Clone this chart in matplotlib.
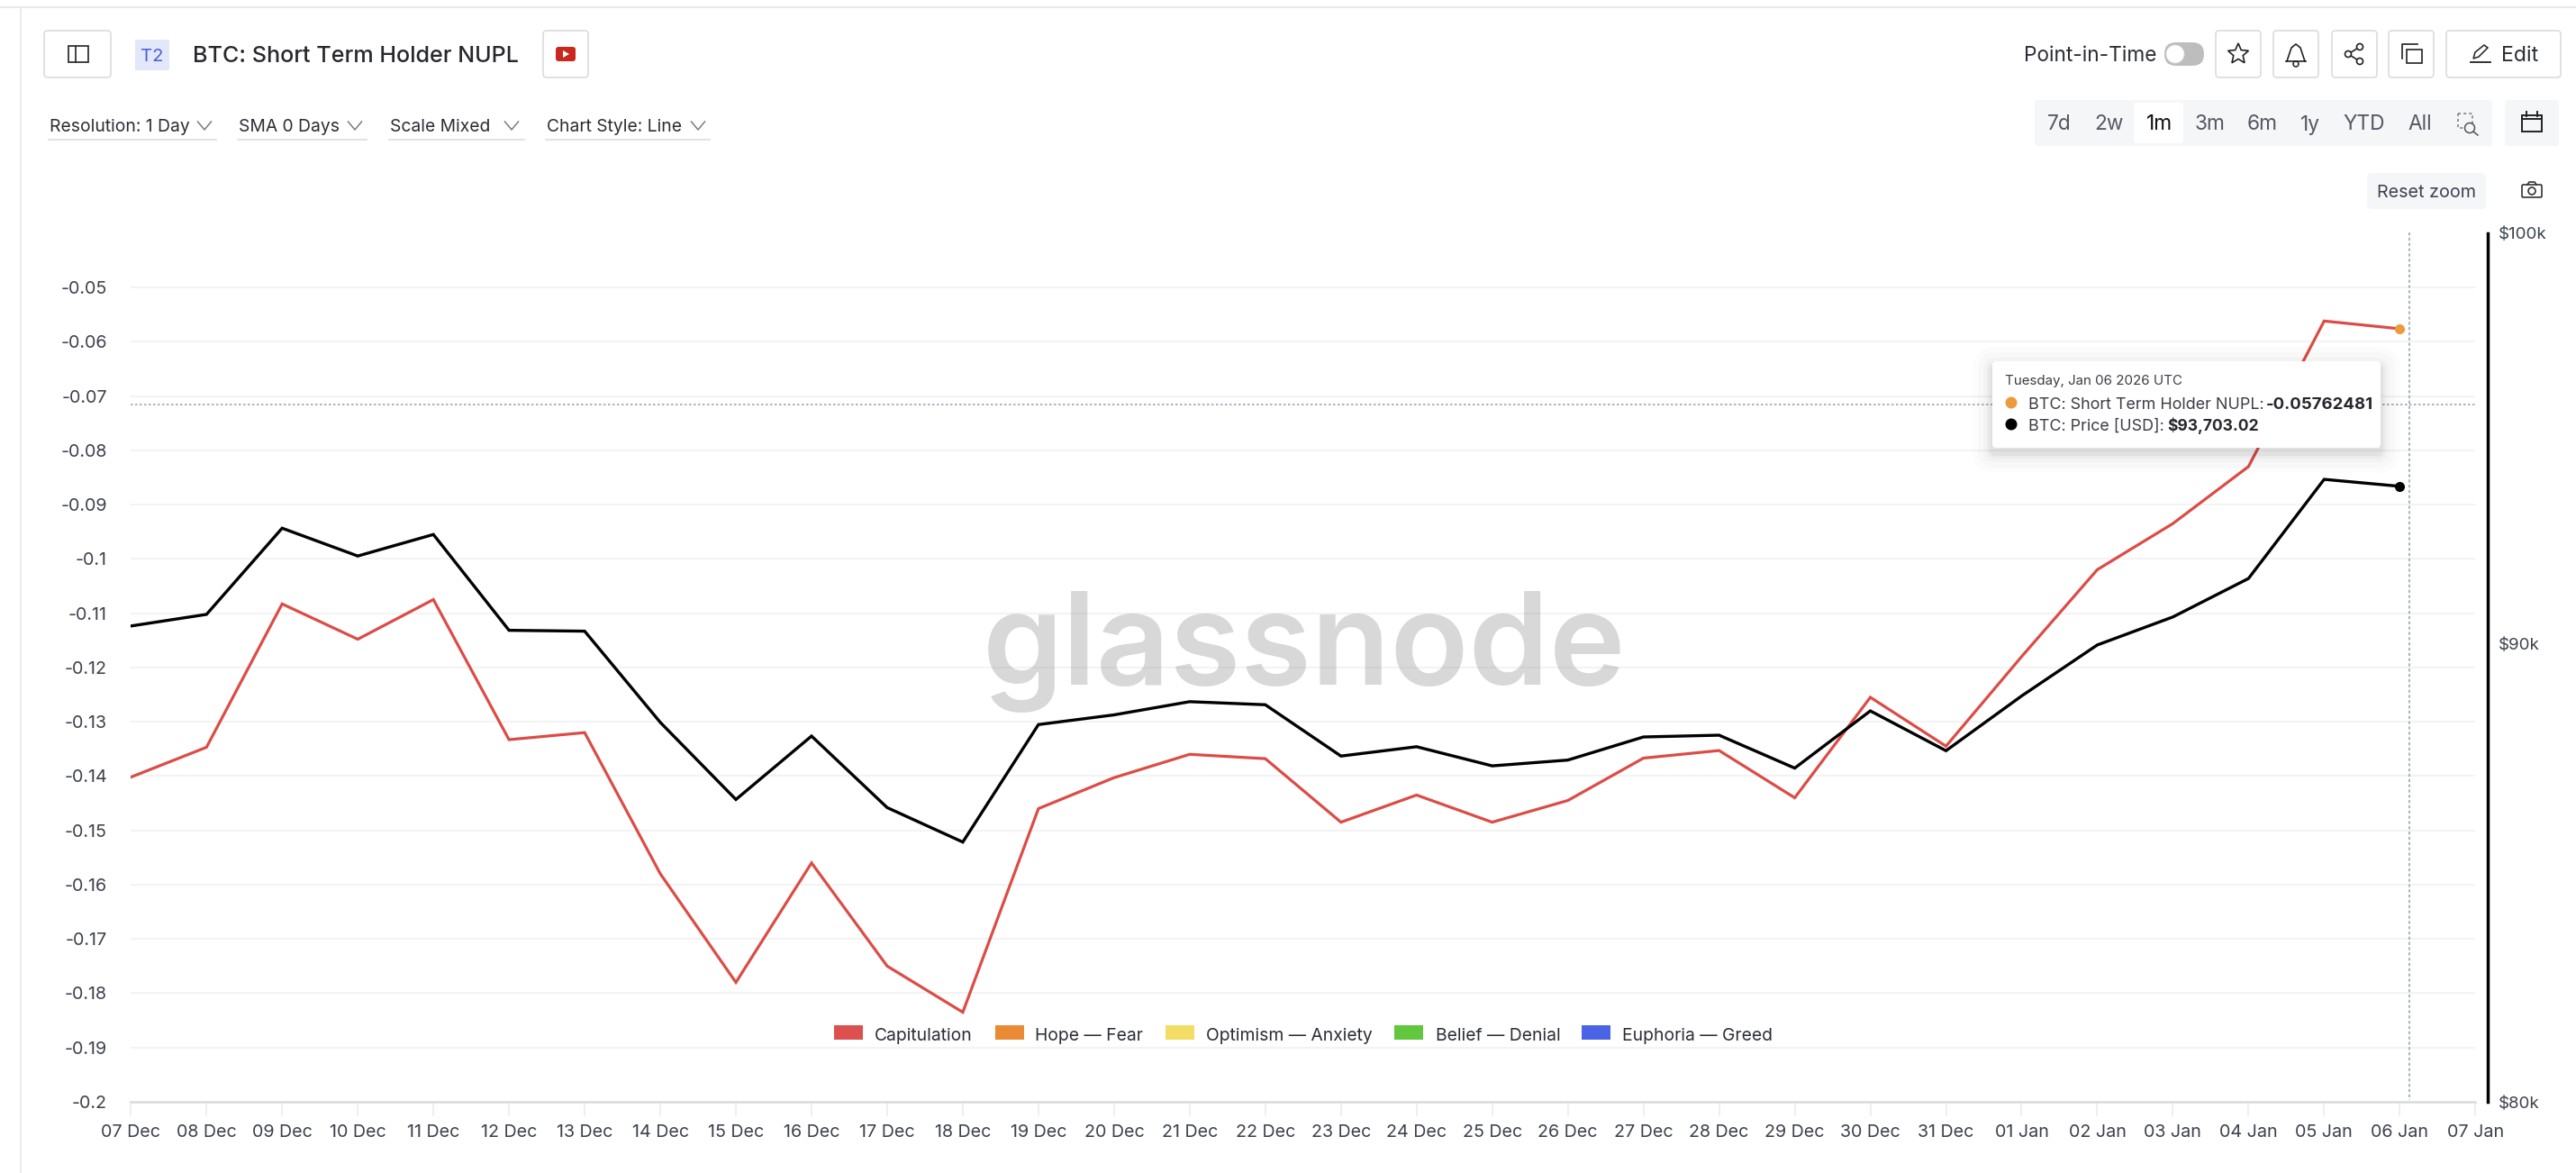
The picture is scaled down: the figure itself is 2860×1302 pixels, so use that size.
import numpy as np
import pandas as pd
import matplotlib
matplotlib.use("Agg")
import matplotlib.pyplot as plt
from matplotlib.patches import FancyBboxPatch, Rectangle, Circle, Polygon
from matplotlib.ticker import FixedLocator, FixedFormatter, NullLocator
import matplotlib.dates as mdates

plt.rcParams['font.family'] = ['Inter', 'DejaVu Sans']

dates = pd.date_range('2025-12-07', '2026-01-06', freq='D')
nupl = [-0.1402, -0.1347, -0.1083, -0.1148, -0.1075, -0.1333, -0.1320, -0.1580,
        -0.1780, -0.1560, -0.1750, -0.1835, -0.1460, -0.1403, -0.1360, -0.1368,
        -0.1485, -0.1435, -0.1485, -0.1445, -0.1367, -0.1353, -0.1440, -0.1255,
        -0.1345, -0.1180, -0.1020, -0.0935, -0.0830, -0.0562, -0.05762481]
price = [90400, 90670, 92700, 92040, 92550, 90300, 90280, 88190, 86460, 87880,
         86280, 85520, 88140, 88360, 88660, 88590, 87430, 87640, 87210, 87340,
         87860, 87900, 87160, 88450, 87550, 88790, 89960, 90610, 91510, 93870,
         93703.02]
x_tick_dates = pd.date_range('2025-12-07', '2026-01-07', freq='D')
x_tick_labels = [d.strftime('%d %b') for d in x_tick_dates]
y_ticks = [-0.05, -0.06, -0.07, -0.08, -0.09, -0.10, -0.11, -0.12, -0.13, -0.14,
           -0.15, -0.16, -0.17, -0.18, -0.19, -0.20]
y_tick_labels = ['-0.05', '-0.06', '-0.07', '-0.08', '-0.09', '-0.1', '-0.11', '-0.12',
                 '-0.13', '-0.14', '-0.15', '-0.16', '-0.17', '-0.18', '-0.19', '-0.2']
price_ticks = [80000, 90000, 100000]
price_labels = ['$80k', '$90k', '$100k']
legend_names = ['Capitulation', 'Hope — Fear', 'Optimism — Anxiety', 'Belief — Denial', 'Euphoria — Greed']
legend_colors = ['#dc5050', '#e98a35', '#f3dd64', '#62c63f', '#4b64e6']
range_names = ['7d', '2w', '1m', '3m', '6m', '1y', 'YTD', 'All']

W, H = 2860, 1302
L, R, T, B = 145.3, 2748.3, 258.7, 1223.0
TICK = '#3d414e'
fig = plt.figure(figsize=(W / 100, H / 100), dpi=100, facecolor='white')

ui = fig.add_axes([0, 0, 1, 1], zorder=5)
ui.set_xlim(0, W); ui.set_ylim(H, 0); ui.axis('off'); ui.patch.set_alpha(0)

ax = fig.add_axes([L / W, 1 - B / H, (R - L) / W, (B - T) / H], zorder=1)
x = mdates.date2num(dates)
ax.set_xlim(mdates.date2num(x_tick_dates[0]), mdates.date2num(x_tick_dates[-1]))
ax.set_ylim(-0.20, -0.04)
ax.patch.set_alpha(0)
ax.yaxis.set_major_locator(FixedLocator(y_ticks))
ax.yaxis.set_major_formatter(FixedFormatter(y_tick_labels))
ax.xaxis.set_major_locator(FixedLocator(mdates.date2num(x_tick_dates)))
ax.xaxis.set_major_formatter(FixedFormatter(x_tick_labels))
ax.yaxis.grid(True, color='#f3f3f3', lw=1.5, zorder=0)
ax.set_axisbelow(True)
ax.tick_params(axis='y', length=0, pad=19, labelsize=14.2, labelcolor=TICK)
ax.tick_params(axis='x', length=11.5, width=1.2, color='#ececec', pad=6.5, labelsize=14.2, labelcolor=TICK)
for s in ['top', 'left', 'right']:
    ax.spines[s].set_visible(False)
ax.spines['bottom'].set_color('#dcdcdc')
ax.spines['bottom'].set_linewidth(1.8)
ax.text(1448, 760, 'glassnode', transform=ui.transData, ha='center', va='baseline',
        fontsize=103, color='#8a8a8a', alpha=0.33, zorder=2, fontweight='semibold')
ax.plot(x, nupl, color='#dc4c46', lw=2.3, zorder=3, solid_joinstyle='miter')
ax.plot(x[-1], nupl[-1], 'o', color='#ec9a3c', ms=8, mew=0, zorder=4)

ax2 = ax.twinx()
ax2.set_zorder(2)
ax2.patch.set_alpha(0)
ax2.set_yscale('log')
ax2.set_ylim(80000, 100000)
ax2.yaxis.set_major_locator(FixedLocator(price_ticks))
ax2.yaxis.set_major_formatter(FixedFormatter(price_labels))
ax2.yaxis.set_minor_locator(NullLocator())
ax2.tick_params(axis='y', length=0, pad=8.5, labelsize=13.5, labelcolor=TICK)
for s in ['top', 'left', 'bottom']:
    ax2.spines[s].set_visible(False)
ax2.spines['right'].set_position(('outward', 9.9))
ax2.spines['right'].set_linewidth(2.5)
ax2.spines['right'].set_color('black')
ax2.plot(x, price, color='black', lw=2.4, zorder=3, solid_joinstyle='miter')
ax2.plot(x[-1], price[-1], 'o', color='black', ms=8, mew=0, zorder=4)


def box(x0, y0, x1, y1, fc='white', ec='none', lw=1.2, r=4, z=2, alpha=None):
    p = FancyBboxPatch((x0, y0), x1 - x0, y1 - y0, boxstyle=f'round,pad=0,rounding_size={r}',
                       fc=fc, ec=ec, lw=lw, zorder=z, alpha=alpha)
    ui.add_patch(p)
    return p


def label(px, py, s, size=15, color='#2b2e36', ha='left', weight='normal', z=6):
    return ui.text(px, py, s, fontsize=size, color=color, ha=ha, va='center_baseline', fontweight=weight, zorder=z)


def chevron(cx, cy, w=15):
    ui.plot([cx - w / 2, cx, cx + w / 2], [cy - 4, cy + 5, cy - 4], color='#777b85', lw=1.1, zorder=6)


# page frame
ui.plot([0, W], [8, 8], color='#e8e8e8', lw=1.5)
ui.plot([23, 23], [8, H], color='#e8e8e8', lw=1.2)

# header buttons
BTN = '#dcdcdc'
for x0, x1 in [(49, 123), (603, 653), (2460, 2510), (2524, 2574), (2589, 2639), (2652, 2702), (2716, 2843)]:
    box(x0, 34, x1, 86, ec=BTN)
ui.add_patch(Rectangle((76, 51), 22, 18, fc='none', ec='#333333', lw=1.3, zorder=6))
ui.plot([84, 84], [51, 69], color='#333333', lw=1.3, zorder=6)
box(150, 44, 188, 78, fc='#e3e7fa', r=1)
label(169, 61, 'T2', size=14.5, color='#4a60d8', ha='center')
label(214, 60, 'BTC: Short Term Holder NUPL', size=18.1, color='#26282e', weight='medium')
box(617, 52, 639, 68, fc='#c9281e', r=3)
ui.add_patch(Polygon([[625, 56], [625, 64], [632, 60]], fc='white', ec='none', zorder=6))

# dropdowns
for txt, tx, ux, cx in [('Resolution: 1 Day', 55, 240, 227), ('SMA 0 Days', 265, 407, 394),
                        ('Scale Mixed', 433, 582, 568), ('Chart Style: Line', 607, 788, 775)]:
    label(tx, 139, txt, size=13.9)
    ui.plot([tx - 1, ux], [155, 155], color='#dddddd', lw=1.2, zorder=3)
    chevron(cx, 139)

# top right
label(2247, 60, 'Point-in-Time', size=16.3)
box(2403, 47, 2447, 73, fc='#bdbdbd', r=13)
ui.add_patch(Circle((2415, 60), 10, fc='white', ec='#e0e0e0', lw=0.6, zorder=6))
# star
ang = np.deg2rad(np.arange(-90, 270, 36))
rad = np.where(np.arange(10) % 2 == 0, 12, 5.5)
ui.add_patch(Polygon(np.c_[2485 + rad * np.cos(ang), 60 + rad * np.sin(ang)], fc='none', ec='#222222', lw=1.2, zorder=6))
# bell
ui.plot([2539, 2541, 2544, 2549, 2554, 2557, 2559], [68, 62, 53, 49, 53, 62, 68], color='#222222', lw=1.2, zorder=6)
ui.plot([2538, 2560], [68, 68], color='#222222', lw=1.2, zorder=6)
ui.add_patch(Circle((2549, 71), 3, fc='none', ec='#222222', lw=1.1, zorder=6))
# share
ui.plot([2620, 2607, 2620], [52, 60, 68], color='#222222', lw=1.2, zorder=6)
for c in [(2620, 52), (2607, 60), (2620, 68)]:
    ui.add_patch(Circle(c, 3.5, fc='white', ec='#222222', lw=1.2, zorder=7))
# copy
ui.add_patch(Rectangle((2672, 55), 17, 15, fc='none', ec='#222222', lw=1.2, zorder=6))
ui.plot([2667, 2667, 2684], [65, 49, 49], color='#222222', lw=1.2, zorder=6)
# edit
ui.plot([2743, 2765], [69, 69], color='#222222', lw=1.3, zorder=6)
ui.add_patch(Polygon([[2746, 65], [2748, 58], [2758, 50], [2762, 53], [2752, 63]], fc='none', ec='#222222', lw=1.1, zorder=6))
label(2777, 60, 'Edit', size=16.6)

# range selector
box(2259, 111, 2767, 162, fc='#f5f6f8', r=4)
box(2369, 114, 2424, 159, fc='white', r=3, z=3)
for name, cx in zip(range_names, [2286, 2341, 2397, 2453, 2512, 2565, 2625, 2687]):
    label(cx, 136, name, size=16.3, ha='center', color='#111111' if name == '1m' else '#555862')
ui.add_patch(Rectangle((2729, 126), 16, 16, fc='none', ec='#777777', lw=1.1, ls=(0, (2, 2)), zorder=6))
ui.add_patch(Circle((2742, 142), 5.5, fc='#f5f6f8', ec='#555555', lw=1.1, zorder=7))
ui.plot([2746, 2751], [146, 150], color='#555555', lw=1.1, zorder=7)
box(2781, 111, 2841, 162, fc='#f5f6f8', r=4)
ui.add_patch(Rectangle((2800, 128), 22, 18, fc='none', ec='#222222', lw=1.4, zorder=6))
ui.plot([2800, 2822], [132, 132], color='#222222', lw=1.4, zorder=6)
ui.plot([2805, 2805], [124, 129], color='#222222', lw=1.4, zorder=6)
ui.plot([2817, 2817], [124, 129], color='#222222', lw=1.4, zorder=6)

# reset zoom
box(2628, 192, 2760, 232, fc='#f5f6f8', r=5)
label(2694, 212, 'Reset zoom', size=14.2, ha='center', color='#3d414e')
box(2800, 205, 2822, 219, fc='none', ec='#333333', lw=1.2, r=1.5, z=6)
ui.plot([2806, 2808, 2814, 2816], [205, 202, 202, 205], color='#333333', lw=1.2, zorder=6)
ui.add_patch(Circle((2811, 212), 4, fc='none', ec='#333333', lw=1.2, zorder=6))

# crosshair
ui.plot([2675, 2675], [258, 1221], color='#9aa7b5', lw=1.2, ls=(0, (2, 1.5)), zorder=1)
ui.plot([145, 2748], [448.7, 448.7], color='#9aa7b5', lw=1.2, ls=(0, (1.5, 1.5)), zorder=1)

# legend
for name, c, sx, tx in zip(legend_names, legend_colors, [926, 1105, 1294, 1548, 1756], [971, 1149, 1339, 1594, 1801]):
    ui.add_patch(Rectangle((sx, 1138), 32, 16, fc=c, ec='none', zorder=4))
    label(tx, 1148, name, size=13.9, color='#2b2e36')

# tooltip
for g, a in zip([22, 16, 10, 6, 3], [0.012, 0.015, 0.02, 0.03, 0.04]):
    box(2212 - g, 401 - g + 6, 2643 + g, 497 + g + 6, fc='black', r=g + 4, z=7, alpha=a)
box(2212, 401, 2643, 497, fc='white', r=4, z=8)
label(2226, 422, 'Tuesday, Jan 06 2026 UTC', size=10.9, color='#3a3d45', z=9)
ui.add_patch(Circle((2233, 447), 6.5, fc='#ec9a3c', ec='none', zorder=9))
ui.add_patch(Circle((2233, 471), 6.5, fc='black', ec='none', zorder=9))
label(2252, 447, 'BTC: Short Term Holder NUPL:', size=12.9, color='#3a3d45', z=9)
label(2516, 447, '-0.05762481', size=13.4, color='#26282e', weight='bold', z=9)
label(2252, 471, 'BTC: Price [USD]:', size=12.9, color='#3a3d45', z=9)
label(2406, 471, '$93,703.02', size=12.6, color='#26282e', weight='bold', z=9)

fig.savefig('out.png', dpi=100)
